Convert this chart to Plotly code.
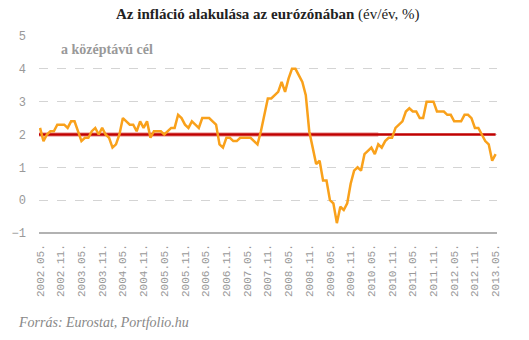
import plotly.graph_objects as go

# monthly eurozone HICP, 2002.05 - 2013.05 (év/év, %)
values = [
    2.2, 1.8, 2.0, 2.1, 2.1, 2.3, 2.3, 2.3,                 # 2002.05-12
    2.2, 2.4, 2.4, 2.1, 1.8, 1.9, 1.9, 2.1, 2.2, 2.0, 2.2, 2.0,  # 2003
    1.9, 1.6, 1.7, 2.0, 2.5, 2.4, 2.3, 2.3, 2.1, 2.4, 2.2, 2.4,  # 2004
    1.9, 2.1, 2.1, 2.1, 2.0, 2.1, 2.2, 2.2, 2.6, 2.5, 2.3, 2.2,  # 2005
    2.4, 2.3, 2.2, 2.5, 2.5, 2.5, 2.4, 2.3, 1.7, 1.6, 1.9, 1.9,  # 2006
    1.8, 1.8, 1.9, 1.9, 1.9, 1.9, 1.8, 1.7, 2.1, 2.6, 3.1, 3.1,  # 2007
    3.2, 3.3, 3.6, 3.3, 3.7, 4.0, 4.0, 3.8, 3.6, 3.2, 2.1, 1.6,  # 2008
    1.1, 1.2, 0.6, 0.6, 0.0, -0.1, -0.7, -0.2, -0.3, -0.1, 0.5, 0.9,  # 2009
    1.0, 0.9, 1.4, 1.5, 1.6, 1.4, 1.7, 1.6, 1.8, 1.9, 1.9, 2.2,  # 2010
    2.3, 2.4, 2.7, 2.8, 2.7, 2.7, 2.5, 2.5, 3.0, 3.0, 3.0, 2.7,  # 2011
    2.7, 2.7, 2.6, 2.6, 2.4, 2.4, 2.4, 2.6, 2.6, 2.5, 2.2, 2.2,  # 2012
    2.0, 1.8, 1.7, 1.2, 1.4,                                # 2013.01-05
]
months = list(range(len(values)))
tick_labels = ["2002.05.", "2002.11.", "2003.05.", "2003.11.", "2004.05.", "2004.11.",
               "2005.05.", "2005.11.", "2006.05.", "2006.11.", "2007.05.", "2007.11.",
               "2008.05.", "2008.11.", "2009.05.", "2009.11.", "2010.05.", "2010.11.",
               "2011.05.", "2011.11.", "2012.05.", "2012.11.", "2013.05."]
tick_positions = [i * 6 for i in range(len(tick_labels))]
target = 2.0
y_min, y_max = -1, 5

fig = go.Figure()

# target line: faint halo on the earlier part, solid red across
fig.add_trace(go.Scatter(x=[-0.3, 98], y=[target, target], mode="lines",
                         line=dict(color="rgba(200,0,0,0.25)", width=5),
                         hoverinfo="skip", showlegend=False))
fig.add_trace(go.Scatter(x=[-0.3, 132], y=[target, target], mode="lines",
                         line=dict(color="#c00000", width=2.5),
                         hoverinfo="skip", showlegend=False))

fig.add_trace(go.Scatter(x=months, y=values, mode="lines",
                         line=dict(color="#f9a11b", width=2.5), hoverinfo="skip",
                         showlegend=False))

fig.update_xaxes(range=[-0.3, 132.4], tickmode="array", tickvals=tick_positions,
                 ticktext=tick_labels, tickangle=-90, showgrid=False, zeroline=False,
                 showline=False, ticks="", ticklabelstandoff=8,
                 tickfont=dict(family="Liberation Mono", size=11, color="#999999"))
fig.update_yaxes(range=[y_min, y_max], tickvals=[-1, 0, 1, 2, 3, 4, 5],
                 showgrid=True, gridcolor="#d4d4d4", griddash="dash", gridwidth=1,
                 zeroline=False, showline=False, ticks="", ticklabelstandoff=12,
                 tickfont=dict(family="Liberation Mono", size=12, color="#999999"))

# axis line at -1
fig.add_shape(type="line", xref="paper", yref="paper", x0=0, x1=1, y0=0, y1=0,
              line=dict(color="#999999", width=1.5))

fig.add_annotation(xref="paper", yref="paper", x=0.5, y=1, yshift=22, showarrow=False,
                   xanchor="center", yanchor="middle",
                   text="<b>Az infláció alakulása az eurózónában</b> (év/év, %)",
                   font=dict(family="Liberation Serif", size=15, color="#222222"))
fig.add_annotation(xref="paper", yref="paper", x=0.043, y=0.93, showarrow=False,
                   xanchor="left", yanchor="middle",
                   text="<b>a középtávú cél</b>",
                   font=dict(family="Liberation Serif", size=14, color="#999999"))
fig.add_annotation(xref="paper", yref="paper", x=-0.05, y=-0.455, showarrow=False,
                   xanchor="left", yanchor="middle",
                   text="<i>Forrás: Eurostat, Portfolio.hu</i>",
                   font=dict(family="Liberation Serif", size=14, color="#888888"))

fig.update_layout(width=529, height=340, margin=dict(l=35, r=32, t=36, b=107),
                  plot_bgcolor="white", paper_bgcolor="white")

fig.write_html("out.html")
